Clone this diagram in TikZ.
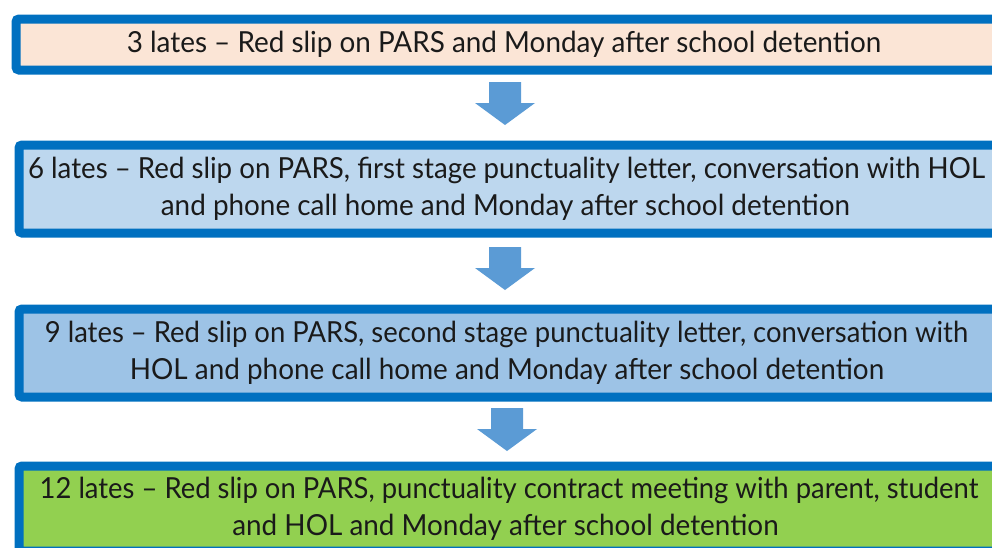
\documentclass[tikz,border=0pt]{standalone}
\usepackage{fontspec}
\setmainfont{Lato}[FakeStretch=0.961]
\definecolor{bordc}{HTML}{0070C0}
\definecolor{arrc}{HTML}{5B9BD5}
\definecolor{fillA}{HTML}{FBE5D6}
\definecolor{fillB}{HTML}{BDD7EE}
\definecolor{fillC}{HTML}{9DC3E6}
\definecolor{fillD}{HTML}{92D050}
\definecolor{txtc}{HTML}{1A1A1A}
\tikzset{
  stagebox/.style={draw=bordc, line width=9pt, rounded corners=3pt, inner sep=0pt, anchor=north west},
  linetext/.style={anchor=base, inner sep=0pt, text=txtc, font=\fontsize{29}{37}\selectfont},
  blockarrow/.style={fill=arrc, draw=none},
}
\begin{document}
\begin{tikzpicture}[x=1pt,y=-1pt]
\useasboundingbox (0,0) rectangle (992,547);
\clip (0,0) rectangle (992,547);
% boxes
\node[stagebox, fill=fillA, minimum width=986pt, minimum height=51pt] (b1) at (11.5,14.5) {};
\node[stagebox, fill=fillB, minimum width=983pt, minimum height=88pt] (b2) at (14.5,140.5) {};
\node[stagebox, fill=fillC, minimum width=983pt, minimum height=88pt] (b3) at (14.5,304.5) {};
\node[stagebox, fill=fillD, minimum width=983pt, minimum height=85pt] (b4) at (14.5,461.5) {};
% texts
\node[linetext] (t1) at (504,52) {3 lates – Red slip on PARS and Monday after school detention};
\node[linetext] (t2a) at (506.5,178) {\scalebox{0.993}[1]{6 lates – Red slip on PARS, first stage punctuality letter, conversation with HOL}};
\node[linetext] (t2b) at (505.5,215) {and phone call home and Monday after school detention};
\node[linetext] (t3a) at (506.5,342) {\scalebox{0.985}[1]{9 lates – Red slip on PARS, second stage punctuality letter, conversation with}};
\node[linetext] (t3b) at (507,379) {HOL and phone call home and Monday after school detention};
\node[linetext] (t4a) at (509,498) {\scalebox{0.984}[1]{12 lates – Red slip on PARS, punctuality contract meeting with parent, student}};
\node[linetext] (t4b) at (505.5,535) {and HOL and Monday after school detention};
% arrows
\coordinate (a1) at (505,82);
\coordinate (a2) at (505,247);
\coordinate (a3) at (507,408);
\foreach \a in {a1,a2,a3}{
  \fill[blockarrow] (\a) ++(-16,0) -- ++(32,0) -- ++(0,21) -- ++(14,0) -- ++(-30,22) -- ++(-30,-22) -- ++(14,0) -- cycle;
}
\end{tikzpicture}
\end{document}
